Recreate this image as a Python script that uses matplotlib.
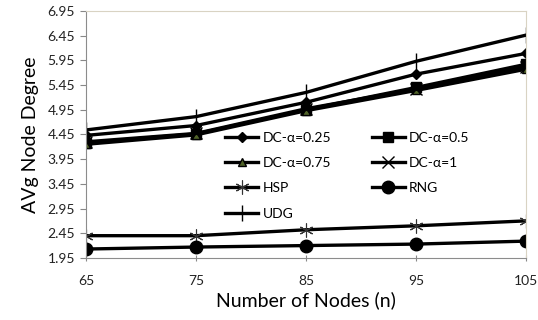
import matplotlib
matplotlib.use("Agg")
import matplotlib.pyplot as plt

plt.rcParams['font.family'] = ['Lato', 'DejaVu Sans']

nodes = [65, 75, 85, 95, 105]
dc_025 = [4.43, 4.63, 5.10, 5.67, 6.09]
dc_05 = [4.28, 4.46, 4.95, 5.40, 5.87]
dc_075 = [4.25, 4.44, 4.93, 5.34, 5.77]
dc_1 = [4.30, 4.47, 4.97, 5.37, 5.82]
hsp = [2.40, 2.40, 2.52, 2.60, 2.70]
rng = [2.13, 2.17, 2.20, 2.23, 2.29]
udg = [4.54, 4.81, 5.30, 5.93, 6.46]

yticks = [1.95, 2.45, 2.95, 3.45, 3.95, 4.45, 4.95, 5.45, 5.95, 6.45, 6.95]

fig = plt.figure(figsize=(5.38, 3.2), dpi=100)
ax = fig.add_axes([0.160, 0.194, 0.818, 0.772])

lw = 2.4
l1, = ax.plot(nodes, dc_025, color='black', lw=lw, marker='D', ms=5, label='DC-α=0.25')
l2, = ax.plot(nodes, dc_05, color='black', lw=lw, marker='s', ms=7, label='DC-α=0.5')
l3, = ax.plot(nodes, dc_075, color='black', lw=lw, marker='^', ms=6,
              mfc='#4f6228', mec='black', label='DC-α=0.75')
l4, = ax.plot(nodes, dc_1, color='black', lw=lw, marker='x', ms=8, mew=1, label='DC-α=1')
l5, = ax.plot(nodes, hsp, color='black', lw=lw, marker=(6, 2, 0), ms=10, mew=0.8,
              mec='#333333', label='HSP')
l6, = ax.plot(nodes, rng, color='black', lw=lw, marker='o', ms=9, label='RNG')
l7, = ax.plot(nodes, udg, color='black', lw=lw, marker='|', ms=12, mew=1, label='UDG')

ax.set_xlim(65, 105)
ax.set_ylim(1.95, 6.95)
ax.set_xticks(nodes)
ax.set_yticks(yticks)
ax.set_yticklabels(['%.2f' % v for v in yticks])
ax.tick_params(axis='x', length=4, pad=10, labelsize=10, colors='#888888',
               labelcolor='#222222', direction='inout')
ax.tick_params(axis='y', length=4, pad=4, labelsize=10, colors='#888888',
               labelcolor='#222222', direction='out')

for s in ['left', 'bottom']:
    ax.spines[s].set_color('#8c8c8c')
for s in ['top', 'right']:
    ax.spines[s].set_color('#d9d3c3')

ax.set_xlabel('Number of Nodes (n)', fontsize=14, labelpad=3)
ax.set_ylabel('AVg Node Degree', fontsize=14, labelpad=6)

# row-wise legend order like Excel
order = [l1, l3, l5, l7, l2, l4, l6]
ax.legend(order, [h.get_label() for h in order], ncol=2, frameon=False,
          fontsize=10, handlelength=2.4, columnspacing=2.9, labelspacing=0.95,
          handletextpad=0.3, borderpad=0, borderaxespad=0,
          loc='upper left', bbox_to_anchor=(0.316, 0.51))

fig.savefig('out.png', dpi=100)
